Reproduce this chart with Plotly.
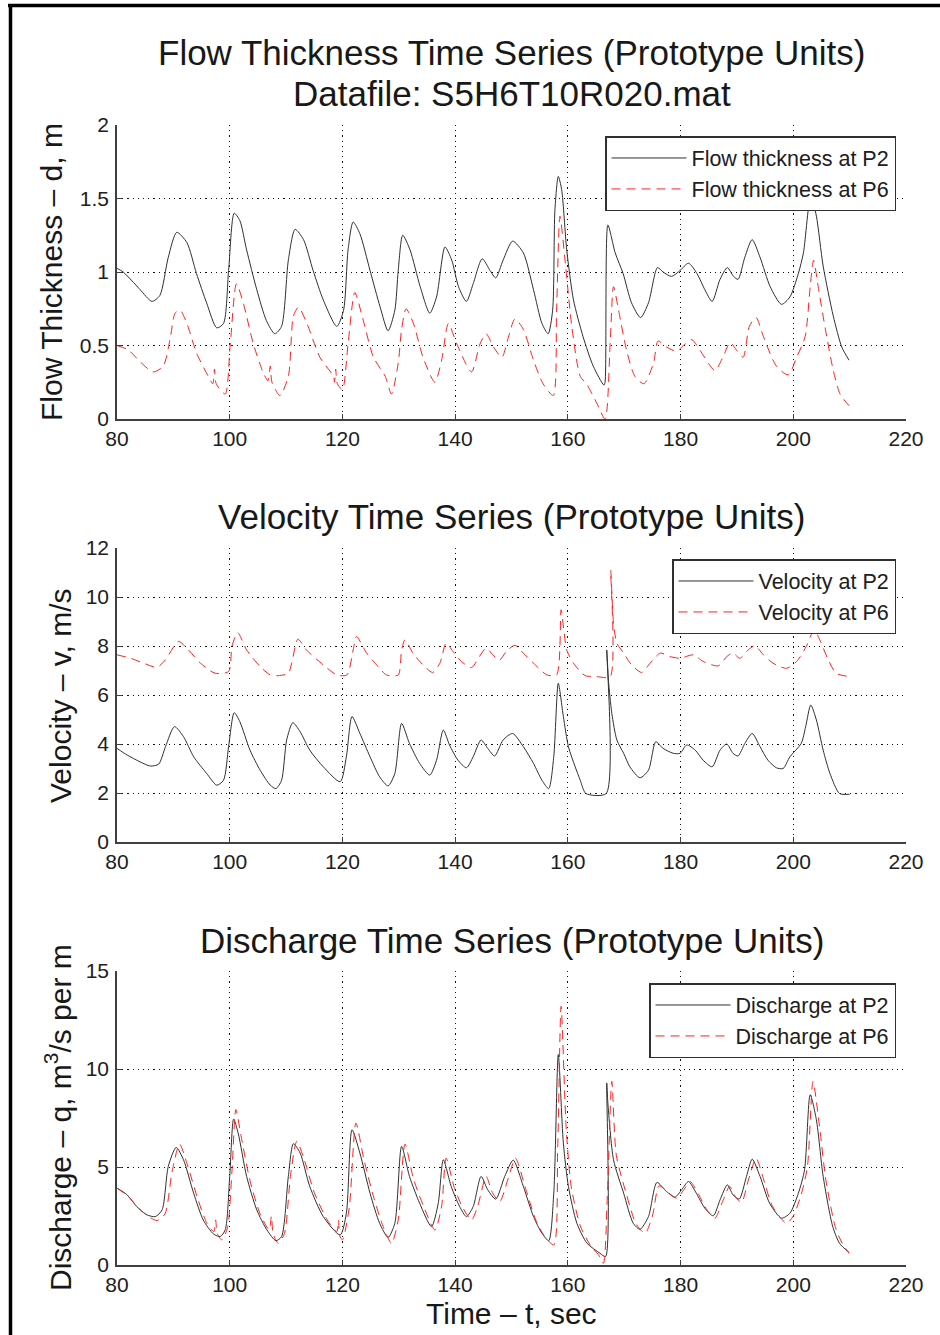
import plotly.graph_objects as go

# ---------------- data ----------------
t_d_p2 = [80.0, 81.1, 82.9, 84.1, 86.2, 87.6, 89.1, 90.6, 92.4, 94.1, 95.9, 97.7, 98.9, 99.8, 100.8, 101.8,
          103.0, 104.8, 106.5, 108.0, 109.2, 110.4, 111.6, 113.1, 114.8, 116.6, 119.0, 120.2, 121.0, 121.9,
          123.1, 124.9, 126.7, 128.1, 129.3, 129.9, 130.7, 132.0, 133.8, 135.5, 136.7, 138.2, 139.4, 140.6,
          142.0, 143.2, 144.8, 146.2, 147.2, 148.5, 150.2, 152.1, 153.9, 155.4, 156.5, 157.3, 157.7, 158.3,
          158.9, 159.8, 161.0, 162.7, 164.5, 166.4, 166.6, 167.1, 168.4, 169.8, 171.3, 172.9, 174.3, 175.9,
          176.9, 178.4, 179.9, 181.4, 182.9, 184.3, 185.6, 187.0, 188.3, 189.4, 190.2, 191.4, 192.7, 194.1,
          195.9, 197.9, 199.4, 200.9, 201.8, 203.1, 204.1, 205.3, 207.1, 208.6, 209.9]
d_p2 = [1.025, 1.00, 0.93, 0.88, 0.80, 0.84, 1.10, 1.27, 1.20, 0.99, 0.79, 0.62, 0.65, 1.01, 1.40, 1.35,
        1.15, 0.88, 0.67, 0.58, 0.63, 1.08, 1.29, 1.22, 1.01, 0.81, 0.63, 0.74, 1.15, 1.34,
        1.26, 1.01, 0.76, 0.60, 0.74, 1.01, 1.25, 1.15, 0.90, 0.72, 0.83, 1.17, 1.08, 0.90,
        0.80, 0.92, 1.09, 1.01, 0.96, 1.08, 1.21, 1.13, 0.88, 0.65, 0.58, 0.74, 1.42, 1.65,
        1.56, 1.15, 0.81, 0.56, 0.36, 0.23, 0.25, 1.32, 1.13, 0.99, 0.79, 0.69, 0.79, 1.03,
        1.00, 0.97, 1.01, 1.06, 0.99, 0.88, 0.80, 0.95, 1.03, 0.97, 0.95, 1.10, 1.22, 1.10,
        0.90, 0.78, 0.83, 0.99, 1.13, 1.52, 1.38, 1.04, 0.70, 0.49, 0.40]

t_d_p6 = [80.0, 82.0, 84.1, 86.4, 88.2, 89.4, 90.3, 91.2, 92.4, 94.1, 96.2, 97.0, 97.3, 97.6, 99.2, 100.1,
          101.2, 102.4, 104.2, 106.0, 106.8, 107.2, 107.5, 108.9, 110.4, 111.3, 112.2, 113.7, 116.0, 118.4,
          118.6, 118.8, 119.1, 120.0, 121.0, 122.2, 123.7, 125.5, 127.6, 128.7, 129.9, 130.5, 131.3, 132.6,
          134.3, 136.4, 137.6, 138.8, 140.3, 142.9, 144.4, 145.5, 146.8, 148.3, 149.4, 150.6, 152.1, 153.9,
          155.6, 157.4, 158.0, 158.6, 159.5, 160.7, 162.2, 163.3, 165.1, 166.6, 167.5, 168.1, 169.0, 170.4,
          171.9, 173.5, 175.2, 176.0, 177.5, 179.3, 180.5, 182.0, 183.4, 186.1, 187.5, 188.8, 189.9, 191.1,
          192.2, 193.4, 194.7, 197.0, 199.1, 200.6, 202.1, 203.0, 203.6, 204.5, 205.7, 207.1, 208.3, 209.9]
d_p6 = [0.50, 0.47, 0.39, 0.32, 0.36, 0.54, 0.72, 0.74, 0.65, 0.45, 0.29, 0.24, 0.34, 0.24, 0.17, 0.51,
        0.92, 0.79, 0.51, 0.31, 0.26, 0.36, 0.25, 0.16, 0.29, 0.70, 0.76, 0.65, 0.42, 0.29,
        0.25, 0.34, 0.24, 0.20, 0.51, 0.86, 0.67, 0.42, 0.29, 0.17, 0.38, 0.61, 0.75, 0.65,
        0.42, 0.25, 0.40, 0.65, 0.51, 0.32, 0.51, 0.58, 0.49, 0.42, 0.55, 0.68, 0.61, 0.40,
        0.24, 0.16, 0.74, 1.38, 1.08, 0.63, 0.29, 0.24, 0.11, 0.00, 0.51, 0.90, 0.74, 0.47,
        0.29, 0.24, 0.38, 0.53, 0.49, 0.46, 0.50, 0.54, 0.47, 0.33, 0.42, 0.52, 0.47, 0.42,
        0.63, 0.69, 0.56, 0.36, 0.30, 0.42, 0.56, 0.90, 1.08, 0.88, 0.61, 0.33, 0.17, 0.09]

t_v_p2 = [80.0, 81.8, 84.1, 85.9, 87.4, 88.6, 90.2, 91.8, 93.6, 95.9, 97.7, 98.9, 99.8, 100.8, 101.8, 103.6,
          105.4, 107.2, 108.2, 109.2, 110.1, 111.2, 112.5, 114.2, 116.6, 119.6, 120.7, 121.7, 123.1, 124.9,
          126.6, 128.1, 129.3, 130.5, 131.9, 133.7, 135.5, 136.7, 137.9, 139.0, 140.5, 142.0, 143.2, 144.6,
          145.8, 147.0, 148.5, 150.2, 152.1, 153.9, 155.4, 156.6, 157.5, 158.3, 159.2, 160.1, 161.3, 162.2,
          163.2, 166.8, 166.9, 167.2, 167.8, 168.7, 169.9, 171.0, 172.8, 174.3, 175.6, 176.9, 178.7, 179.9,
          181.1, 182.6, 184.0, 185.6, 187.0, 188.2, 189.3, 190.2, 191.4, 192.7, 194.1, 195.5, 197.0, 198.2,
          199.4, 201.4, 202.2, 203.1, 204.1, 205.3, 206.5, 208.2, 210.0]
v_p2 = [3.82, 3.55, 3.27, 3.10, 3.18, 3.89, 4.71, 4.30, 3.48, 2.80, 2.32, 2.52, 3.89, 5.28, 4.91, 3.75,
        2.93, 2.32, 2.18, 2.52, 4.16, 4.87, 4.50, 3.75, 3.07, 2.46, 3.48, 5.12, 4.43, 3.48,
        2.66, 2.29, 2.80, 4.84, 4.02, 3.21, 2.73, 3.34, 4.57, 3.96, 3.34, 3.03, 3.48, 4.16,
        3.82, 3.51, 4.16, 4.43, 3.89, 3.21, 2.52, 2.18, 3.48, 6.48, 5.12, 3.89, 3.07, 2.52,
        1.98, 1.98, 7.84, 6.60, 5.25, 4.16, 3.62, 3.07, 2.62, 2.93, 4.09, 3.82, 3.62, 3.62,
        3.96, 3.75, 3.34, 3.07, 3.75, 4.00, 3.62, 3.51, 4.02, 4.43, 3.89, 3.34, 3.03, 3.00,
        3.48, 4.02, 4.71, 5.59, 4.98, 3.75, 2.80, 1.98, 1.95]

t_v_p6 = [80.0, 82.4, 84.7, 87.1, 88.6, 90.9, 92.4, 94.8, 97.4, 99.8, 100.4, 101.4, 103.0, 105.4, 107.2, 108.6,
          110.4, 111.0, 112.1, 113.6, 116.6, 119.0, 120.8, 121.9, 122.5, 124.3, 126.6, 127.8, 129.9, 130.5,
          131.1, 132.5, 134.3, 136.0, 137.3, 138.4, 139.6, 141.1, 142.9, 144.3, 145.5, 146.7, 147.8, 149.1,
          150.6, 152.1, 153.9, 156.3, 158.0, 158.8, 159.3, 159.8, 161.0, 162.5, 163.2, 165.1, 167.5, 167.6,
          168.1, 168.7, 169.9, 171.3, 173.1, 174.6, 176.4, 178.1, 179.9, 182.3, 184.0, 186.7, 188.2, 189.3,
          190.5, 192.0, 193.2, 194.7, 196.4, 198.8, 200.6, 202.3, 203.7, 204.7, 206.2, 207.6, 210.0]
v_p6 = [7.64, 7.50, 7.30, 7.13, 7.44, 8.19, 7.91, 7.30, 6.89, 6.96, 7.98, 8.55, 7.84, 7.16, 6.82, 6.79,
        6.89, 7.30, 8.28, 7.84, 7.23, 6.82, 6.82, 7.84, 8.39, 7.71, 7.09, 6.82, 6.82, 7.84,
        8.25, 7.71, 7.23, 6.92, 7.30, 8.12, 7.78, 7.37, 7.12, 7.57, 7.91, 7.64, 7.41, 7.78,
        8.03, 7.71, 7.30, 6.82, 6.82, 9.48, 8.62, 7.84, 7.30, 6.89, 6.78, 6.75, 6.75, 11.1,
        8.94, 8.12, 7.71, 7.23, 6.92, 7.30, 7.71, 7.57, 7.50, 7.64, 7.37, 7.19, 7.57, 7.71,
        7.50, 7.84, 8.01, 7.64, 7.30, 7.09, 7.37, 7.98, 8.66, 8.25, 7.44, 6.89, 6.75]

t_q_p2 = [80.0, 81.8, 83.5, 85.3, 86.8, 88.0, 89.1, 90.5, 91.8, 93.6, 95.3, 97.1, 98.3, 99.2, 100.0, 100.7,
          101.5, 103.0, 104.8, 106.6, 108.2, 109.2, 110.4, 111.3, 112.5, 114.2, 116.6, 119.6, 120.7, 121.7,
          123.1, 124.9, 126.6, 128.1, 129.3, 130.5, 131.9, 133.7, 135.8, 137.0, 137.9, 139.3, 140.8, 142.0,
          143.2, 144.6, 145.8, 147.2, 148.8, 150.3, 152.1, 153.9, 155.4, 156.6, 157.5, 158.3, 159.2, 160.1,
          161.6, 163.4, 165.7, 166.7, 166.9, 167.1, 168.1, 169.9, 171.6, 172.8, 174.3, 175.8, 177.5, 179.0,
          180.2, 181.4, 182.8, 184.3, 185.8, 187.0, 188.3, 189.3, 190.4, 191.7, 192.7, 194.1, 195.8, 197.9,
          199.4, 200.9, 202.0, 203.0, 204.1, 205.3, 207.0, 208.2, 209.9]
q_p2 = [3.92, 3.58, 2.98, 2.56, 2.47, 2.81, 5.03, 6.00, 5.37, 3.66, 2.30, 1.59, 1.45, 1.79, 4.52, 7.45,
        6.73, 4.52, 2.81, 1.79, 1.24, 1.45, 4.52, 6.19, 5.71, 4.01, 2.47, 1.53, 2.64, 6.90,
        5.71, 3.66, 2.13, 1.41, 2.13, 6.05, 4.52, 3.15, 1.96, 3.15, 5.37, 4.01, 2.98, 2.47,
        2.98, 4.52, 3.83, 3.36, 4.52, 5.35, 4.01, 2.47, 1.62, 1.24, 3.66, 10.74, 6.22, 4.01,
        2.13, 1.11, 0.60, 0.43, 9.29, 8.27, 5.37, 3.66, 2.13, 1.82, 2.47, 4.21, 3.75, 3.46,
        3.84, 4.26, 3.66, 2.90, 2.51, 3.32, 4.09, 3.58, 3.36, 4.52, 5.40, 4.52, 3.15, 2.39,
        2.64, 3.66, 4.86, 8.69, 7.41, 4.52, 1.96, 1.11, 0.63]

t_q_p6 = [80.0, 82.0, 84.0, 86.0, 87.1, 88.5, 89.8, 91.1, 92.5, 94.3, 96.0, 97.2, 97.5, 97.8, 98.6, 99.6,
          100.4, 101.1, 102.0, 103.6, 105.4, 107.0, 107.4, 107.7, 108.6, 109.7, 110.8, 111.9, 113.2, 115.0,
          117.3, 119.0, 119.3, 119.5, 120.0, 121.2, 122.4, 123.8, 125.6, 127.3, 128.7, 129.9, 131.1, 132.6,
          134.4, 136.4, 137.6, 138.4, 139.9, 141.4, 142.9, 144.0, 145.5, 146.6, 147.9, 149.4, 150.7, 152.5,
          154.3, 155.8, 157.5, 158.2, 158.8, 159.7, 160.6, 162.2, 164.0, 165.5, 166.3, 167.0, 167.8, 168.6,
          170.4, 172.1, 173.7, 175.0, 176.2, 177.8, 179.3, 180.5, 181.7, 183.2, 184.7, 186.1, 187.4, 188.7,
          189.7, 190.8, 192.1, 193.4, 194.7, 196.3, 198.8, 200.0, 201.4, 202.5, 203.5, 204.6, 205.8, 207.5,
          208.7, 209.9]
q_p6 = [3.92, 3.50, 2.85, 2.40, 2.27, 2.60, 4.80, 6.17, 5.10, 3.40, 2.10, 1.70, 2.30, 1.60, 1.28, 1.90,
        4.80, 7.93, 6.60, 4.30, 2.60, 1.80, 2.50, 1.60, 1.11, 1.60, 4.60, 6.31, 5.40, 3.70,
        2.30, 1.70, 2.30, 1.50, 1.28, 2.90, 7.24, 5.40, 3.40, 1.90, 1.11, 2.30, 6.17, 4.40,
        3.00, 1.79, 3.00, 5.45, 3.90, 2.90, 2.30, 3.00, 4.52, 3.70, 3.24, 4.40, 5.45, 3.90,
        2.30, 1.50, 1.02, 6.00, 13.2, 7.00, 4.00, 2.00, 1.00, 0.50, 0.09, 3.50, 9.37, 5.60,
        3.60, 2.10, 1.62, 2.50, 4.04, 3.70, 3.41, 3.80, 4.26, 3.60, 2.80, 2.39, 3.20, 4.01,
        3.50, 3.19, 4.40, 5.45, 4.40, 3.00, 2.13, 2.50, 3.60, 5.00, 9.37, 7.20, 4.30, 1.90,
        1.10, 0.60]

x_ticks = [80, 100, 120, 140, 160, 180, 200, 220]

# ---------------- figure ----------------
W, H = 940, 1335
FONT = "Liberation Sans, Arial, Helvetica, sans-serif"
BLACK = "#303030"
RED = "#ff2020"


def px_x(p):
    return p / W


def px_y(p):
    return 1 - p / H


x0, x1 = 117, 906
panels = [(125, 419), (548, 842), (971, 1265)]

fig = go.Figure()

series = [
    (t_d_p2, d_p2, "Flow thickness at P2", "solid", BLACK, 1, "legend"),
    (t_d_p6, d_p6, "Flow thickness at P6", "9px,6px", RED, 1, "legend"),
    (t_v_p2, v_p2, "Velocity at P2", "solid", BLACK, 2, "legend2"),
    (t_v_p6, v_p6, "Velocity at P6", "9px,6px", RED, 2, "legend2"),
    (t_q_p2, q_p2, "Discharge at P2", "solid", BLACK, 3, "legend3"),
    (t_q_p6, q_p6, "Discharge at P6", "9px,6px", RED, 3, "legend3"),
]
for tt, yy, name, dash, col, k, lg in series:
    sfx = "" if k == 1 else str(k)
    fig.add_trace(go.Scatter(
        x=tt, y=yy, name=name, mode="lines",
        line=dict(color=col, width=1.0, dash=dash, shape="spline", smoothing=0.7),
        xaxis="x" + sfx, yaxis="y" + sfx, legend=lg,
    ))

axis_common = dict(
    showline=True, linecolor="#404040", linewidth=1.5,
    ticks="inside", ticklen=5, tickcolor="#404040", tickwidth=1,
    showgrid=True, gridcolor="#101010", gridwidth=1, griddash="1.2px,4px",
    zeroline=False, tickfont=dict(family=FONT, size=21, color="#202020"),
    mirror=False,
)

yranges = [([0, 2], [0, 0.5, 1, 1.5, 2], ["0", "0.5", "1", "1.5", "2"]),
           ([0, 12], [0, 2, 4, 6, 8, 10, 12], ["0", "2", "4", "6", "8", "10", "12"]),
           ([0, 15], [0, 5, 10, 15], ["0", "5", "10", "15"])]

layout = dict(
    width=W, height=H,
    margin=dict(l=0, r=0, t=0, b=0, autoexpand=False),
    paper_bgcolor="white", plot_bgcolor="white",
    font=dict(family=FONT, color="#202020"),
)
for k in range(3):
    sfx = "" if k == 0 else str(k + 1)
    top, bot = panels[k]
    layout["xaxis" + sfx] = dict(
        axis_common, domain=[px_x(x0), px_x(x1)], range=[80, 220],
        tickvals=x_ticks, ticktext=[str(v) for v in x_ticks],
        anchor="y" + sfx, ticklabelstandoff=0,
    )
    rng, tv, tt = yranges[k]
    layout["yaxis" + sfx] = dict(
        axis_common, domain=[px_y(bot), px_y(top)], range=rng,
        tickvals=tv, ticktext=tt, anchor="x" + sfx, ticklabelstandoff=2,
    )

legend_tops = [136, 559, 983]
for k, lgname in enumerate(["legend", "legend2", "legend3"]):
    layout[lgname] = dict(
        x=px_x(896), xanchor="right", y=px_y(legend_tops[k]), yanchor="top",
        bgcolor="white", bordercolor="#303030", borderwidth=1.5,
        font=dict(family=FONT, size=21.5, color="#202020"),
        itemwidth=75, tracegroupgap=0,
    )

fig.update_layout(**layout)

xc = px_x((x0 + x1) / 2)
annots = [
    ("Flow Thickness Time Series (Prototype Units)", xc, 52, 35, 0),
    ("Datafile: S5H6T10R020.mat", xc, 93, 35, 0),
    ("Velocity Time Series (Prototype Units)", xc, 516, 35, 0),
    ("Discharge Time Series (Prototype Units)", xc, 940, 35, 0),
    ("Time \u2013 t, sec", xc, 1313, 30, 0),
    ("Flow Thickness \u2013 d, m", px_x(52), (125 + 419) / 2, 30, -90),
    ("Velocity \u2013 v, m/s", px_x(60), (548 + 842) / 2, 30, -90),
    ("Discharge \u2013 q, m<sup>3</sup>/s per m", px_x(58), (971 + 1265) / 2, 30, -90),
]
for text, ax, ay, size, ang in annots:
    fig.add_annotation(
        text=text, xref="paper", yref="paper", x=ax, y=px_y(ay),
        xanchor="center", yanchor="middle", showarrow=False, textangle=ang,
        font=dict(family=FONT, size=size, color="#181818"),
    )

# outer frame (top and left edges)
fig.add_shape(type="line", xref="paper", yref="paper", x0=px_x(8), x1=1.0,
              y0=px_y(5.5), y1=px_y(5.5), line=dict(color="black", width=3.5))
fig.add_shape(type="line", xref="paper", yref="paper", x0=px_x(10.5), x1=px_x(10.5),
              y0=px_y(4), y1=0.0, line=dict(color="black", width=3.5))

fig.write_html("out.html")
